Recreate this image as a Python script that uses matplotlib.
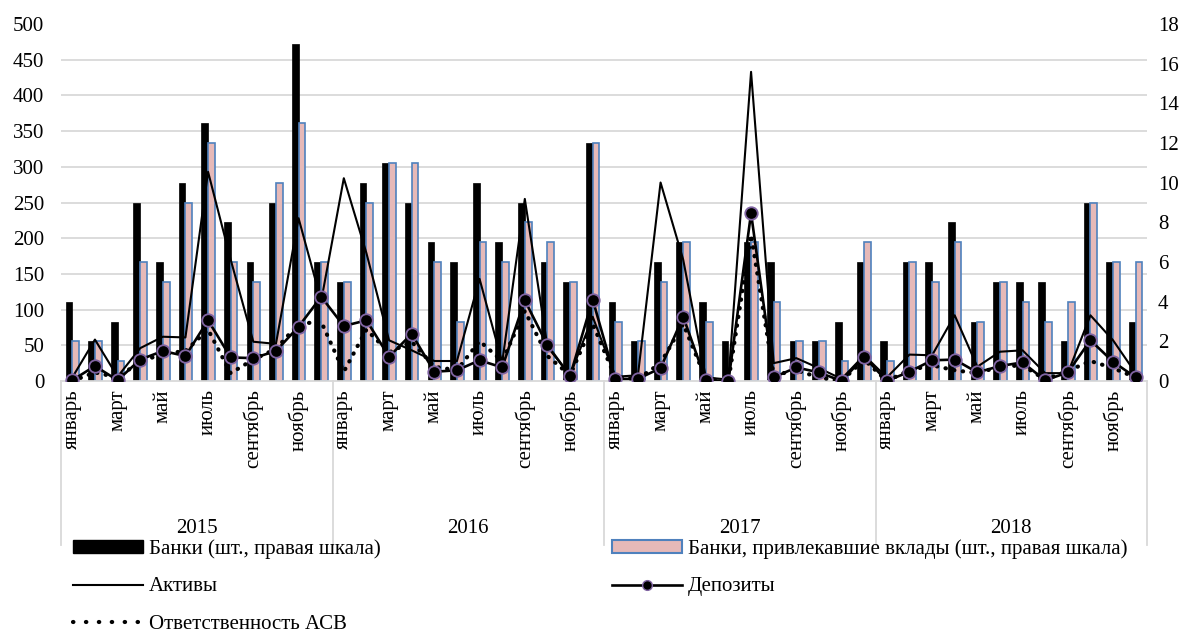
import numpy as np
import matplotlib.pyplot as plt
from matplotlib.patches import Patch
from matplotlib.lines import Line2D
from matplotlib.ticker import MultipleLocator

plt.rcParams['font.family'] = ['Liberation Serif', 'DejaVu Serif']

years = ['2015', '2016', '2017', '2018']
months = ['январь', '', 'март', '', 'май', '', 'июль', '', 'сентябрь', '', 'ноябрь', '']

# bars, right scale (pcs)
banks = [4, 2, 3, 9, 6, 10, 13, 8, 6, 9, 17, 6,
         5, 10, 11, 9, 7, 6, 10, 7, 9, 6, 5, 12,
         4, 2, 6, 7, 4, 2, 7, 6, 2, 2, 3, 6,
         2, 6, 6, 8, 3, 5, 5, 5, 2, 9, 6, 3]
deposit_banks = [2, 2, 1, 6, 5, 9, 12, 6, 5, 10, 13, 6,
                 5, 9, 11, 11, 6, 3, 7, 6, 8, 7, 5, 12,
                 3, 2, 5, 7, 3, 0, 7, 4, 2, 2, 1, 7,
                 1, 6, 5, 7, 3, 5, 4, 3, 4, 9, 6, 6]

# lines, left scale
assets = [5, 58, 6, 46, 62, 61, 293, 170, 55, 52, 228, 112,
          284, 179, 57, 43, 28, 28, 143, 26, 255, 48, 8, 90,
          6, 8, 278, 170, 5, 2, 433, 25, 32, 18, 3, 36,
          5, 37, 36, 92, 20, 41, 43, 11, 11, 92, 57, 11]
deposits = [1, 21, 1, 30, 42, 35, 85, 33, 32, 42, 76, 118,
            77, 85, 34, 66, 13, 15, 29, 19, 113, 50, 7, 114,
            3, 3, 18, 90, 1, 0, 235, 5, 19, 12, 0, 34,
            0, 13, 29, 30, 12, 21, 26, 1, 12, 57, 27, 5]
asv = [0, 12, 5, 27, 38, 42, 72, 11, 30, 45, 80, 83,
       13, 72, 40, 55, 20, 15, 56, 28, 98, 35, 8, 80,
       5, 3, 25, 80, 3, 0, 205, 8, 15, 5, 0, 30,
       0, 15, 22, 15, 11, 20, 22, 2, 14, 28, 18, 5]

n = len(banks)
x = np.arange(n)
pink = '#e6b9b8'
blue = '#4f81bd'
purple = '#8064a2'
grid_c = '#d9d9d9'
fs = 15

fig = plt.figure(figsize=(11.89, 6.35), dpi=100)
ax = fig.add_axes([61/1189, 1-381/635, (1147-61)/1189, 357/635])
ax2 = ax.twinx()
ax.set_zorder(2)
ax2.set_zorder(1)
ax.patch.set_visible(False)

# bars on the right axis
w = 0.3
ax2.bar(x - w/2, banks, w, color='black', edgecolor='black', linewidth=0.5, zorder=3)
ax2.bar(x + w/2, deposit_banks, w, color=pink, edgecolor=blue, linewidth=1.2, zorder=3)
ax2.set_ylim(0, 18)
ax2.set_yticks(np.arange(0, 19, 2))
# gridlines that match the left ticks, drawn behind the bars
ax2.yaxis.set_minor_locator(MultipleLocator(1.8))
ax2.grid(which='minor', axis='y', color=grid_c, linewidth=1.3, zorder=0)
ax2.tick_params(which='both', length=0)
ax2.tick_params(axis='y', labelsize=fs, pad=8)

# lines on the left axis
ax.plot(x, assets, color='black', linewidth=1.5, zorder=4)
ax.plot(x, asv, color='black', linewidth=3, linestyle=(0, (0.1, 2.0)),
        dash_capstyle='round', zorder=5)
ax.plot(x, deposits, color='black', linewidth=1.9, marker='o', markersize=9,
        markerfacecolor='black', markeredgecolor=purple, markeredgewidth=1.3, zorder=6)
ax.set_ylim(0, 500)
ax.set_yticks(np.arange(0, 501, 50))
ax.set_xlim(-0.5, n - 0.5)
ax.tick_params(axis='y', labelsize=fs, length=0, pad=12)

for a in (ax, ax2):
    for s in a.spines.values():
        s.set_visible(False)
ax.spines['bottom'].set_visible(True)
ax.spines['bottom'].set_color(grid_c)
ax.spines['bottom'].set_linewidth(1.3)

# month labels
ax.set_xticks(x)
ax.set_xticklabels(months * len(years), rotation=90, va='top', fontsize=fs)
ax.tick_params(axis='x', length=0, pad=6)

# year labels and separators
tr = ax.get_xaxis_transform()
for i, yr in enumerate(years):
    ax.text(i * 12 + 5.5, -0.412, yr, transform=tr, ha='center', va='center', fontsize=fs)
for b in range(len(years) + 1):
    ax.plot([b * 12 - 0.5] * 2, [0, -0.46], transform=tr, color=grid_c,
            linewidth=1.3, clip_on=False)

# legends
h_banks = Patch(facecolor='black', edgecolor='black')
h_dep_banks = Patch(facecolor=pink, edgecolor=blue, linewidth=1.5)
h_assets = Line2D([], [], color='black', linewidth=1.5)
h_deposits = Line2D([], [], color='black', linewidth=1.9, marker='o', markersize=7,
                    markerfacecolor='black', markeredgecolor=purple)
h_asv = Line2D([], [], color='black', linewidth=3, linestyle=(0, (0.1, 3.0)),
               dash_capstyle='round')

leg_kw = dict(loc='upper left', frameon=False, fontsize=fs, handlelength=3.35,
              handletextpad=0.3, labelspacing=0.9, borderpad=0, borderaxespad=0,
              handleheight=0.6)
fig.legend([h_banks, h_assets, h_asv],
           ['Банки (шт., правая шкала)', 'Активы', 'Ответственность АСВ'],
           bbox_to_anchor=(73/1189, 1-539/635), **leg_kw)
fig.legend([h_dep_banks, h_deposits],
           ['Банки, привлекавшие вклады (шт., правая шкала)', 'Депозиты'],
           bbox_to_anchor=(612/1189, 1-539/635), **leg_kw)

fig.savefig('out.png', dpi=100)
